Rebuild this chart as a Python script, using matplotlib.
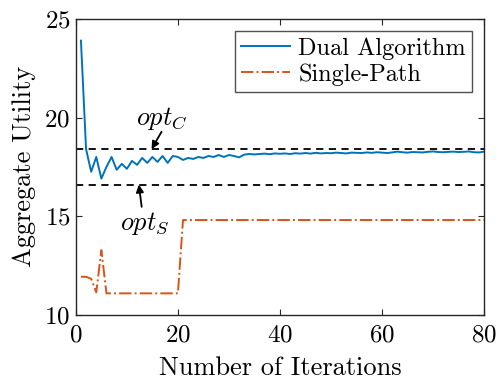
import matplotlib
matplotlib.use("Agg")
import matplotlib.pyplot as plt
import numpy as np

plt.rcParams['font.family'] = 'serif'
plt.rcParams['font.serif'] = ['cmr10']
plt.rcParams['mathtext.fontset'] = 'cm'
plt.rcParams['axes.formatter.use_mathtext'] = True

iterations = list(range(1, 81))
dual = [23.9, 18.4, 17.25, 18.0, 16.9, 17.5, 18.0, 17.35, 17.65, 17.4,
        17.8, 17.6, 17.95, 17.7, 18.0, 17.75, 18.05, 17.7, 18.05, 18.0,
        17.85, 17.95, 17.9, 18.0, 17.95, 18.05, 18.0, 18.1, 18.0, 18.1,
        18.05, 17.98, 18.12, 18.15, 18.13, 18.15, 18.17, 18.14, 18.18, 18.16,
        18.18, 18.15, 18.19, 18.17, 18.2, 18.17, 18.21, 18.18, 18.2, 18.19,
        18.22, 18.2, 18.18, 18.22, 18.21, 18.2, 18.23, 18.21, 18.24, 18.22,
        18.2, 18.23, 18.27, 18.24, 18.22, 18.25, 18.24, 18.23, 18.26, 18.28,
        18.25, 18.24, 18.26, 18.27, 18.25, 18.26, 18.28, 18.24, 18.23, 18.27]
single = [11.92, 11.92, 11.82, 11.13, 13.27, 11.08, 11.08, 11.08, 11.08, 11.08,
          11.08, 11.08, 11.08, 11.08, 11.08, 11.08, 11.08, 11.08, 11.08, 11.08] + [14.8] * 60
opt_c = 18.4
opt_s = 16.6

fig = plt.figure(figsize=(4.99, 3.80), dpi=100)
ax = fig.add_axes([0.152, 0.172, 0.818, 0.778])

ax.axhline(opt_c, color='black', ls=(0, (4, 3)), lw=1.3)
ax.axhline(opt_s, color='black', ls=(0, (4, 3)), lw=1.3)
ax.plot(iterations, dual, color='#0072BD', lw=1.4, label='Dual Algorithm')
ax.plot(iterations, single, color='#D95319', lw=1.4, ls='-.', label='Single-Path')

ax.set_xlim(0, 80)
ax.set_ylim(10, 25)
ax.set_xticks([0, 20, 40, 60, 80])
ax.set_yticks([10, 15, 20, 25])
ax.tick_params(direction='in', top=True, right=True, labelsize=18, length=4,
               color='#262626')
ax.tick_params(axis='x', pad=7)
ax.tick_params(axis='y', pad=4)
for s in ax.spines.values():
    s.set_color('#262626')
    s.set_linewidth(1.0)

ax.set_xlabel('Number of Iterations', fontsize=19, labelpad=7)
ax.set_ylabel('Aggregate Utility', fontsize=19, labelpad=6)

arrow = dict(arrowstyle='-|>', color='black', lw=1.3, mutation_scale=11,
             shrinkA=0, shrinkB=0)
ax.annotate('', xy=(14.84, opt_c), xytext=(16.8, 19.28), arrowprops=arrow)
ax.annotate('', xy=(12.35, opt_s), xytext=(12.9, 15.47), arrowprops=arrow)
ax.text(16.8, 19.97, '$opt_C$', fontsize=19, ha='center', va='center')
ax.text(13.5, 14.6, '$opt_S$', fontsize=19, ha='center', va='center')

leg = ax.legend(loc='upper right', fontsize=17.5, frameon=True, fancybox=False,
                edgecolor='#262626', handlelength=2.0, handletextpad=0.35,
                borderpad=0.25, labelspacing=0.15, borderaxespad=0.5)
leg.get_frame().set_linewidth(1.0)

fig.savefig('out.png', dpi=100)
